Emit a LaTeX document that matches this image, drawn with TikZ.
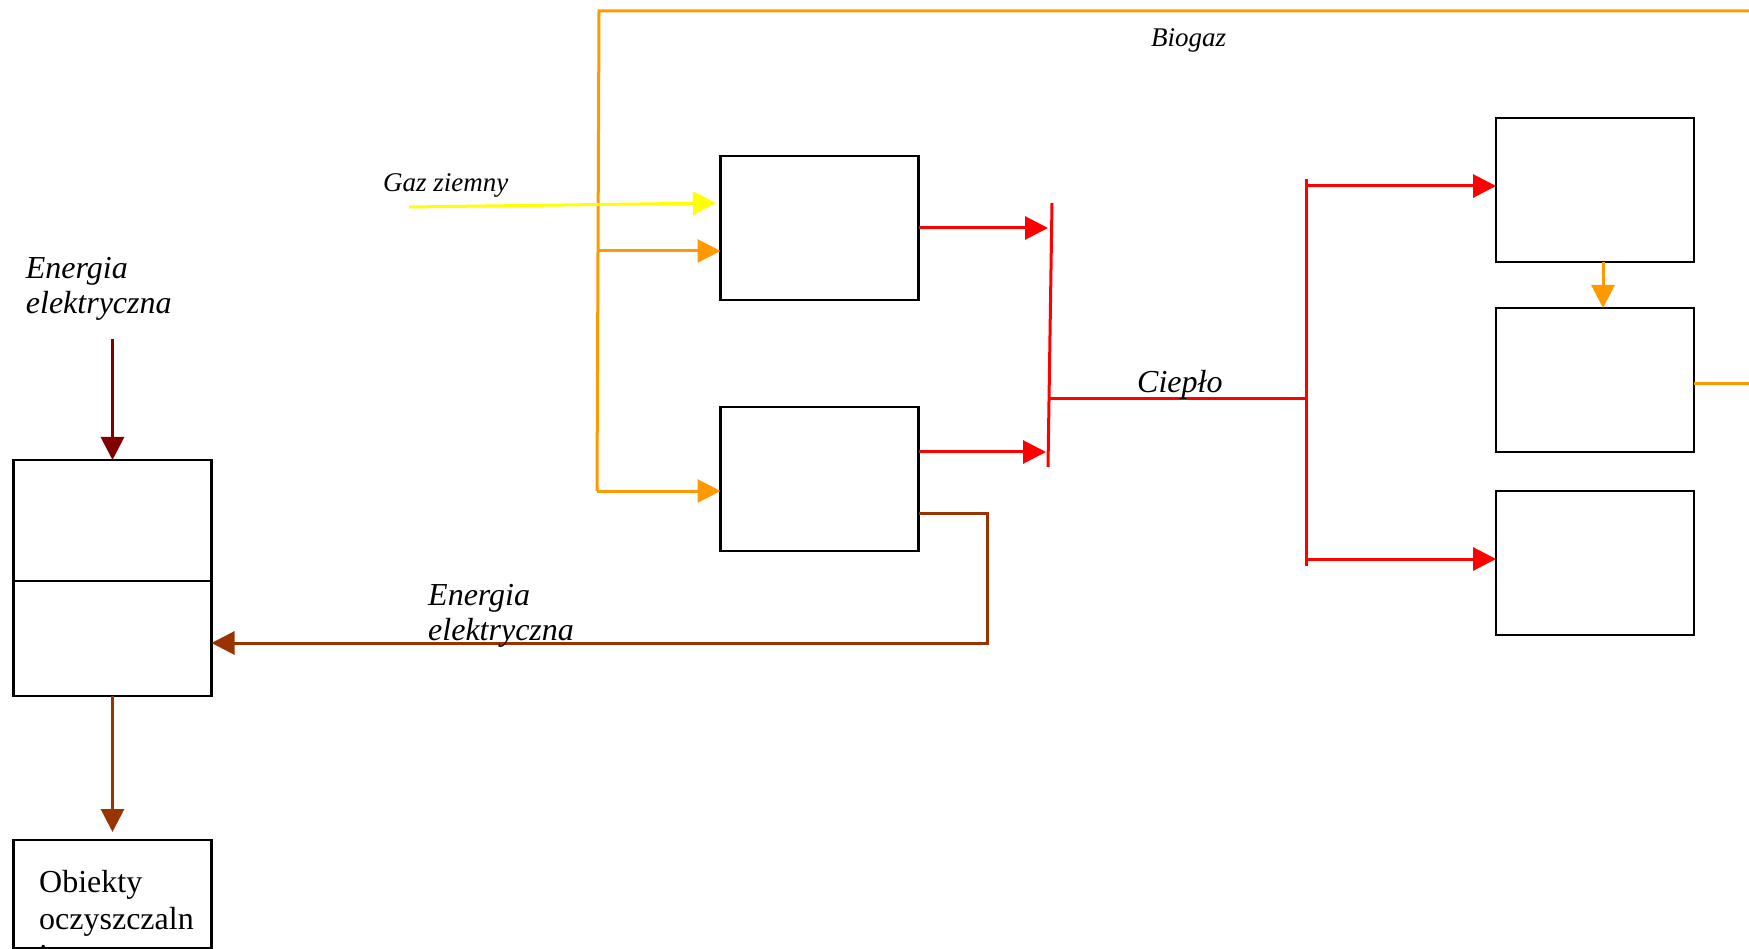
\documentclass[tikz,border=0pt]{standalone}
\usepackage{fontspec}
\setmainfont{Liberation Serif}
\usetikzlibrary{arrows.meta}
\definecolor{gasyellow}{RGB}{255,255,0}
\definecolor{bioorange}{RGB}{255,153,0}
\definecolor{heatred}{RGB}{255,0,0}
\definecolor{gridred}{RGB}{128,0,0}
\definecolor{powerbrown}{RGB}{153,51,0}
\tikzset{
  unit/.style={draw=black, line width=2.4pt, minimum width=198pt, minimum height=144pt, inner sep=0pt, outer sep=0pt},
  flow/.style={line width=3pt},
  tip/.style={-{Triangle[length=23pt,width=23pt]}},
  lbl/.style={inner sep=0pt, anchor=base west, align=left, font=\fontsize{32}{35}\selectfont\itshape},
  smalllbl/.style={inner sep=0pt, anchor=base west, font=\fontsize{27}{30}\selectfont\itshape},
  plainlbl/.style={inner sep=0pt, anchor=base west, align=left, font=\fontsize{32}{37}\selectfont},
}
\begin{document}
\begin{tikzpicture}[x=1pt,y=-1pt]
\useasboundingbox (0,0) rectangle (1749,949);
\clip (0,0) rectangle (1749,949);

% units
\node[unit] (gen1) at (819.5,228) {};
\node[unit] (gen2) at (819.5,479) {};
\node[unit] (recA) at (1595,190) {};
\node[unit] (recB) at (1595,380) {};
\node[unit] (recC) at (1595,563) {};
\node[unit, minimum height=121pt] (distU) at (112.5,520.5) {};
\node[unit, minimum height=115pt] (distL) at (112.5,638.5) {};
\node[unit, minimum height=108pt] (obj) at (112.5,894) {};
% multi-line text: the base anchor sits on the last line
\node[plainlbl] (objtxt) at (39,966) {Obiekty\\oczyszczaln\\i};

% biogas loop
\coordinate (bgR) at (1749,11);
\coordinate (bgTop) at (599,11);
\coordinate (bgBot) at (597,491);
\coordinate (bg1) at (598,251);
\coordinate (bgOut) at (1749,384);
\coordinate (dg) at (1603,0);
\draw[flow,bioorange] (bgR) -- (bgTop) -- (bgBot);
\draw[flow,bioorange,tip] (bg1) -- (bg1 -| gen1.west);
\draw[flow,bioorange,tip] (bgBot) -- (bgBot -| gen2.west);
\draw[flow,bioorange,tip] (recA.south -| dg) -- (recB.north -| dg);
\draw[flow,bioorange] (recB.east |- bgOut) -- (bgOut);

% natural gas
\coordinate (ngStart) at (409,207);
\coordinate (ngEnd) at (716,203);
\draw[flow,gasyellow,tip] (ngStart) -- (ngEnd);

% heat
\coordinate (busTop) at (1052,203);
\coordinate (busBot) at (1048,467);
\coordinate (busMid) at (1049.5,399);
\coordinate (h1) at (1048,228);
\coordinate (h2) at (1046,452);
\coordinate (hubX) at (1306,399);
\coordinate (hubTop) at (1306,179);
\coordinate (hubBot) at (1306,566);
\coordinate (brA) at (1306,186);
\coordinate (brC) at (1306,559);
\draw[flow,heatred] (busTop) -- (busBot);
\draw[flow,heatred,tip] (gen1.east) -- (h1);
\draw[flow,heatred,tip] (gen2.east |- h2) -- (h2);
\draw[flow,heatred] (busMid) -- (hubX);
\draw[flow,heatred] (hubTop) -- (hubBot);
\draw[flow,heatred,tip] (brA) -- (brA -| recA.west);
\draw[flow,heatred,tip] (brC) -- (brC -| recC.west);

% electricity
\coordinate (gridIn) at (112.5,339);
\coordinate (elA) at (987,513);
\coordinate (elB) at (987,643);
\draw[flow,gridred,tip] (gridIn) -- (distU.north);
\draw[flow,powerbrown,tip] (gen2.east |- elA) -- (elA) -- (elB) -- (elB -| distL.east);
\draw[flow,powerbrown,tip,shorten >=8pt] (distL.south) -- (obj.north);

% labels
\node[lbl] (elTop) at (25.7,314) {Energia\\elektryczna};
\node[lbl] (elBot) at (428,640) {Energia\\elektryczna};
\node[lbl] (heat) at (1137,393) {Ciepło};
\node[smalllbl] (ng) at (383,192) {Gaz ziemny};
\node[smalllbl] (bio) at (1151,47) {Biogaz};
\end{tikzpicture}
\end{document}
